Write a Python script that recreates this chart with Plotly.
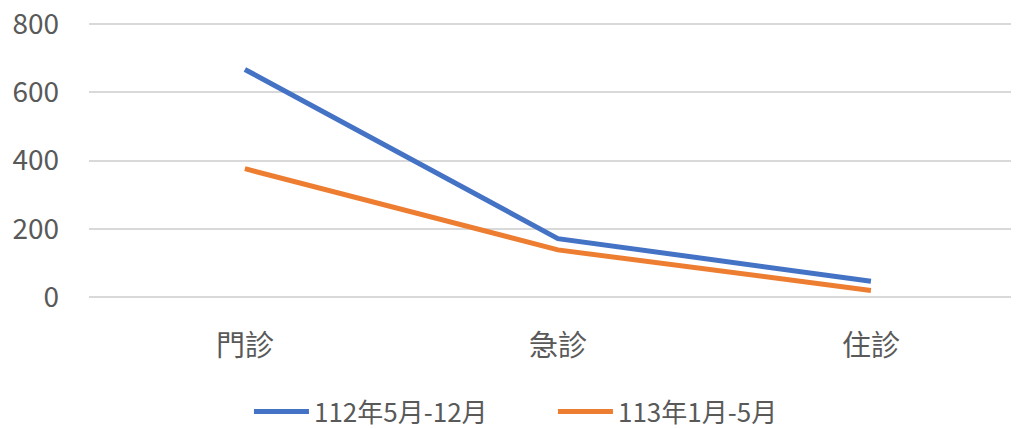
import plotly.graph_objects as go

categories = ["門診", "急診", "住診"]
series_names = ["112年5月-12月", "113年1月-5月"]
values_112 = [667, 171, 46]
values_113 = [376, 138, 19]
y_ticks = [0, 200, 400, 600, 800]

colors = ["#4472C4", "#ED7D31"]
font_family = "Noto Sans CJK TC, Noto Sans, sans-serif"

fig = go.Figure()
for name, vals, col in zip(series_names, [values_112, values_113], colors):
    fig.add_trace(go.Scatter(
        x=categories, y=vals, name=name, mode="lines",
        line=dict(color=col, width=5),
    ))

fig.update_layout(
    width=1011, height=429,
    margin=dict(l=81, r=0, t=13, b=137.4),
    paper_bgcolor="white", plot_bgcolor="white",
    font=dict(family=font_family, size=26, color="#595959"),
    showlegend=True,
    legend=dict(orientation="h", x=0.172, xanchor="left", y=-0.4, yanchor="middle",
                font=dict(size=26, color="#595959"), itemwidth=55,
                entrywidth=234, traceorder="normal"),
)
fig.update_xaxes(type="category", range=[-0.498, 2.473], showgrid=False,
                 showline=False, zeroline=False, ticks="", automargin=False,
                 ticklabelstandoff=26, tickfont=dict(size=29, color="#595959"))
fig.update_yaxes(range=[-9, 809], tickvals=y_ticks, showgrid=True,
                 gridcolor="#D9D9D9", gridwidth=1.5, zeroline=False,
                 showline=False, ticks="", ticklabelstandoff=29, automargin=False,
                 ticklabeloverflow="allow",
                 tickfont=dict(size=28, color="#595959"))

fig.write_html("out.html")
